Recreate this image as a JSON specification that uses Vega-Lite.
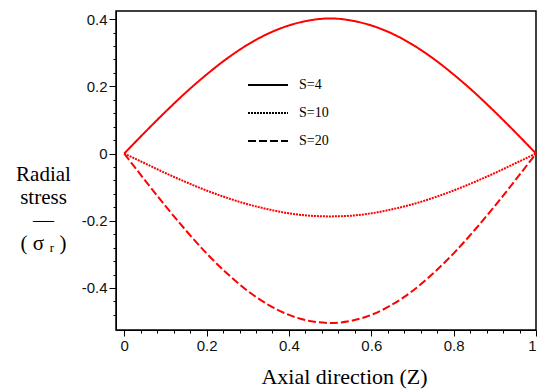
{
  "$schema": "https://vega.github.io/schema/vega-lite/v6.json",
  "width": 420,
  "height": 319,
  "autosize": "none",
  "padding": {"left": 116, "top": 11, "right": 1, "bottom": 60},
  "background": "white",
  "config": {
    "view": {"stroke": "black", "strokeWidth": 1.5},
    "axis": {"grid": false, "domainColor": "black", "tickColor": "black", "labelColor": "#111", "labelFont": "Liberation Sans", "labelFontSize": 15, "titleFont": "Liberation Serif", "titleFontWeight": "normal", "titleColor": "black"}
  },
  "data": {"values": [
    {"z": 0, "s": "S=4", "v": 0}, {"z": 0.05, "s": "S=4", "v": 0.063}, {"z": 0.1, "s": "S=4", "v": 0.124}, {"z": 0.15, "s": "S=4", "v": 0.182}, {"z": 0.2, "s": "S=4", "v": 0.235}, {"z": 0.25, "s": "S=4", "v": 0.283}, {"z": 0.3, "s": "S=4", "v": 0.324}, {"z": 0.35, "s": "S=4", "v": 0.357}, {"z": 0.4, "s": "S=4", "v": 0.381}, {"z": 0.45, "s": "S=4", "v": 0.396}, {"z": 0.5, "s": "S=4", "v": 0.402}, {"z": 0.55, "s": "S=4", "v": 0.396}, {"z": 0.6, "s": "S=4", "v": 0.381}, {"z": 0.65, "s": "S=4", "v": 0.357}, {"z": 0.7, "s": "S=4", "v": 0.324}, {"z": 0.75, "s": "S=4", "v": 0.283}, {"z": 0.8, "s": "S=4", "v": 0.235}, {"z": 0.85, "s": "S=4", "v": 0.182}, {"z": 0.9, "s": "S=4", "v": 0.124}, {"z": 0.95, "s": "S=4", "v": 0.063}, {"z": 1, "s": "S=4", "v": 0},
    {"z": 0, "s": "S=10", "v": 0}, {"z": 0.05, "s": "S=10", "v": -0.029}, {"z": 0.1, "s": "S=10", "v": -0.058}, {"z": 0.15, "s": "S=10", "v": -0.085}, {"z": 0.2, "s": "S=10", "v": -0.110}, {"z": 0.25, "s": "S=10", "v": -0.132}, {"z": 0.3, "s": "S=10", "v": -0.151}, {"z": 0.35, "s": "S=10", "v": -0.166}, {"z": 0.4, "s": "S=10", "v": -0.178}, {"z": 0.45, "s": "S=10", "v": -0.185}, {"z": 0.5, "s": "S=10", "v": -0.187}, {"z": 0.55, "s": "S=10", "v": -0.185}, {"z": 0.6, "s": "S=10", "v": -0.178}, {"z": 0.65, "s": "S=10", "v": -0.166}, {"z": 0.7, "s": "S=10", "v": -0.151}, {"z": 0.75, "s": "S=10", "v": -0.132}, {"z": 0.8, "s": "S=10", "v": -0.110}, {"z": 0.85, "s": "S=10", "v": -0.085}, {"z": 0.9, "s": "S=10", "v": -0.058}, {"z": 0.95, "s": "S=10", "v": -0.029}, {"z": 1, "s": "S=10", "v": 0},
    {"z": 0, "s": "S=20", "v": 0}, {"z": 0.05, "s": "S=20", "v": -0.079}, {"z": 0.1, "s": "S=20", "v": -0.156}, {"z": 0.15, "s": "S=20", "v": -0.229}, {"z": 0.2, "s": "S=20", "v": -0.297}, {"z": 0.25, "s": "S=20", "v": -0.357}, {"z": 0.3, "s": "S=20", "v": -0.409}, {"z": 0.35, "s": "S=20", "v": -0.450}, {"z": 0.4, "s": "S=20", "v": -0.480}, {"z": 0.45, "s": "S=20", "v": -0.498}, {"z": 0.5, "s": "S=20", "v": -0.504}, {"z": 0.55, "s": "S=20", "v": -0.498}, {"z": 0.6, "s": "S=20", "v": -0.480}, {"z": 0.65, "s": "S=20", "v": -0.450}, {"z": 0.7, "s": "S=20", "v": -0.409}, {"z": 0.75, "s": "S=20", "v": -0.357}, {"z": 0.8, "s": "S=20", "v": -0.297}, {"z": 0.85, "s": "S=20", "v": -0.229}, {"z": 0.9, "s": "S=20", "v": -0.156}, {"z": 0.95, "s": "S=20", "v": -0.079}, {"z": 1, "s": "S=20", "v": 0}
  ]},
  "layer": [
    {
      "mark": {"type": "line", "color": "#ff0000", "strokeWidth": 2, "interpolate": "monotone"},
      "encoding": {
        "x": {"field": "z", "type": "quantitative", "scale": {"domain": [-0.02, 1.0], "nice": false, "zero": false},
          "axis": {"orient": "bottom", "values": [0, 0.2, 0.4, 0.6, 0.8, 1], "labelExpr": "toString(datum.value)", "tickSize": 6, "labelPadding": 2, "domain": true,
            "title": "Axial direction (Z)", "titleFontSize": 22, "titleAlign": "center", "titleX": 228, "titleY": 53, "titleBaseline": "alphabetic"}},
        "y": {"field": "v", "type": "quantitative", "scale": {"domain": [-0.525, 0.424], "nice": false, "zero": false},
          "axis": {"orient": "left", "values": [-0.4, -0.2, 0, 0.2, 0.4], "labelExpr": "toString(datum.value)", "tickSize": 7, "labelPadding": 2, "domain": true,
            "title": ["Radial", "stress", "—", "( σ ᵣ )"], "titleFontSize": 21, "titleLineHeight": 23, "titleAngle": 0, "titleAlign": "center", "titleBaseline": "alphabetic", "titleX": -73, "titleY": 169}},
        "strokeDash": {"field": "s", "type": "nominal",
          "scale": {"domain": ["S=4", "S=10", "S=20"], "range": [[1, 0], [2, 1], [8, 3]]},
          "legend": {"orient": "none", "legendX": 131, "legendY": 53, "title": null, "symbolType": "stroke", "symbolSize": 1600, "symbolStrokeColor": "black", "symbolStrokeWidth": 2, "labelFont": "Liberation Serif", "labelFontSize": 14, "labelColor": "black", "labelOffset": 10, "rowPadding": 0}}
      }
    },
    {
      "mark": {"type": "line", "opacity": 0},
      "encoding": {
        "x": {"field": "z", "type": "quantitative",
          "axis": {"orient": "bottom", "values": [0.04, 0.08, 0.12, 0.16, 0.24, 0.28, 0.32, 0.36, 0.44, 0.48, 0.52, 0.56, 0.64, 0.68, 0.72, 0.76, 0.84, 0.88, 0.92, 0.96], "labels": false, "domain": false, "tickSize": 3, "title": null}},
        "y": {"field": "v", "type": "quantitative",
          "axis": {"orient": "left", "values": [-0.48, -0.44, -0.36, -0.32, -0.28, -0.24, -0.16, -0.12, -0.08, -0.04, 0.04, 0.08, 0.12, 0.16, 0.24, 0.28, 0.32, 0.36], "labels": false, "domain": false, "tickSize": 3, "title": null}},
        "detail": {"field": "s"}
      }
    }
  ],
  "resolve": {"axis": {"x": "independent", "y": "independent"}}
}
